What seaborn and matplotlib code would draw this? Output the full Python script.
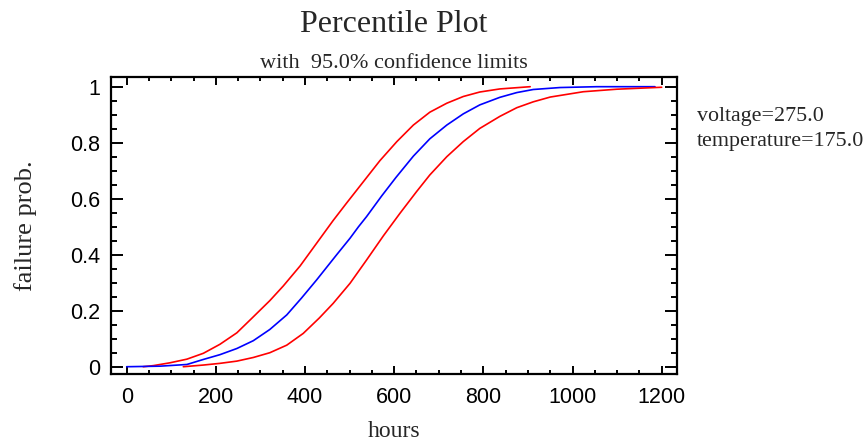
import matplotlib
matplotlib.use("Agg")
import matplotlib.pyplot as plt
import seaborn as sns
import pandas as pd
from matplotlib.ticker import MultipleLocator, FuncFormatter

# ---- data ----
median_hours = [0, 75, 135, 172, 209, 247, 284, 321, 359, 392, 426, 471, 501, 520, 538,
                572, 604, 643, 680, 718, 755, 792, 837, 875, 912, 972, 1054, 1185]
median_prob = [0, 0.002, 0.008, 0.026, 0.043, 0.065, 0.093, 0.133, 0.185, 0.245, 0.31,
               0.40, 0.459, 0.50, 0.536, 0.61, 0.676, 0.752, 0.814, 0.863, 0.903, 0.935,
               0.962, 0.979, 0.99, 0.997, 1.0, 1.0]

lower_hours = [127, 172, 209, 247, 284, 321, 359, 396, 432, 463, 501, 538, 576, 613, 650,
               680, 718, 755, 792, 837, 875, 912, 950, 1024, 1099, 1200]
lower_prob = [0, 0.006, 0.012, 0.020, 0.033, 0.05, 0.077, 0.119, 0.174, 0.226, 0.298,
              0.381, 0.468, 0.548, 0.625, 0.685, 0.75, 0.804, 0.851, 0.894, 0.925,
              0.946, 0.963, 0.982, 0.991, 0.998]

upper_hours = [37, 60, 97, 135, 172, 209, 247, 280, 321, 351, 389, 426, 463, 493, 531,
               568, 606, 643, 680, 718, 755, 792, 837, 905]
upper_prob = [0, 0.004, 0.014, 0.027, 0.048, 0.08, 0.121, 0.172, 0.236, 0.288, 0.36,
              0.441, 0.522, 0.584, 0.661, 0.736, 0.804, 0.863, 0.909, 0.941, 0.965,
              0.981, 0.992, 1.0]

x_ticks = [0, 200, 400, 600, 800, 1000, 1200]
y_ticks = [0, 0.2, 0.4, 0.6, 0.8, 1.0]

title = "Percentile Plot"
subtitle = "with  95.0% confidence limits"
side_text = ["voltage=275.0", "temperature=175.0"]

# ---- plot ----
sns.set_style("ticks")
serif = ["Liberation Serif", "DejaVu Serif"]
sans = ["Liberation Sans", "DejaVu Sans"]
plt.rcParams["font.family"] = sans

fig = plt.figure(figsize=(8.66, 4.47), dpi=100)
ax = fig.add_axes([0.1282, 0.1633, 0.6532, 0.6638])

upper_df = pd.DataFrame({"hours": upper_hours, "prob": upper_prob})
median_df = pd.DataFrame({"hours": median_hours, "prob": median_prob})
lower_df = pd.DataFrame({"hours": lower_hours, "prob": lower_prob})

sns.lineplot(data=upper_df, x="hours", y="prob", ax=ax, color="#ff0000", lw=1.2, sort=False)
sns.lineplot(data=median_df, x="hours", y="prob", ax=ax, color="#0000ff", lw=1.2, sort=False)
sns.lineplot(data=lower_df, x="hours", y="prob", ax=ax, color="#ff0000", lw=1.2, sort=False)

ax.set_xlim(-35.2, 1233.7)
ax.set_ylim(-0.026, 1.0336)
ax.set_xticks(x_ticks)
ax.set_yticks(y_ticks)
ax.xaxis.set_minor_locator(MultipleLocator(50))
ax.yaxis.set_minor_locator(MultipleLocator(0.05))
ax.yaxis.set_major_formatter(FuncFormatter(lambda v, p: "%g" % round(v, 2)))

for s in ax.spines.values():
    s.set_visible(True)
    s.set_linewidth(1.6)
    s.set_color("black")

ax.tick_params(axis="both", which="both", direction="in", top=True, right=True,
               width=1.4, color="black", labelsize=15.5, labelcolor="black")
ax.tick_params(axis="x", which="major", length=5.5, pad=9)
ax.tick_params(axis="x", which="minor", length=3)
ax.tick_params(axis="y", which="major", length=8.5, pad=8)
ax.tick_params(axis="y", which="minor", length=4.5)

ax.set_xlabel("hours", family=serif, fontsize=17, labelpad=10)
ax.set_ylabel("failure prob.", family=serif, fontsize=19, labelpad=23.5)

fig.text(0.455, 1 - 31.5 / 447, title, family=serif, fontsize=23, ha="center", va="baseline")
fig.text(0.455, 1 - 68 / 447, subtitle, family=serif, fontsize=16, ha="center", va="baseline")
fig.text(697 / 866, 1 - 121 / 447, side_text[0], family=serif, fontsize=15.8, ha="left", va="baseline")
fig.text(697 / 866, 1 - 146 / 447, side_text[1], family=serif, fontsize=15.8, ha="left", va="baseline")

fig.savefig("out.png", dpi=100)
